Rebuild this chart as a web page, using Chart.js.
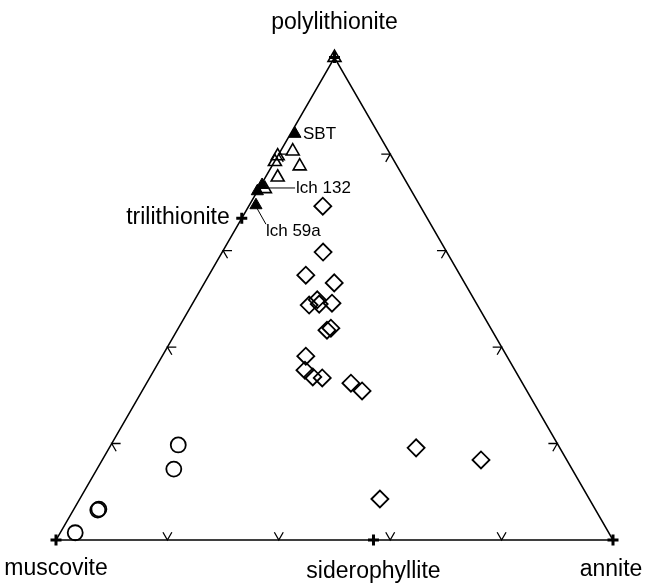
<!DOCTYPE html>
<html>
<head>
<meta charset="utf-8">
<script src="https://cdn.jsdelivr.net/npm/chart.js@4.4.1/dist/chart.umd.min.js"></script>
<style>
    body { margin: 0; background: #fff; }
    #wrap { width: 650px; height: 585px; }
</style>
</head>
<body>
<div id="wrap"><canvas id="chart"></canvas></div>
<script>
// Ternary values in % : polylithionite (top) and annite (right); muscovite is the rest
const endMemberNames  = ["muscovite", "siderophyllite", "annite", "trilithionite", "polylithionite"];
const endMemberPoly   = [0, 0, 0, 66.7, 100];
const endMemberAnnite = [0, 57, 100, 0, 0];

const circlePoly   = [1.5, 6.4, 6.2, 19.7, 14.7];
const circleAnnite = [2.7, 4.5, 4.4, 12.1, 13.8];

const diamondPoly   = [69.2, 59.7, 54.9, 53.3, 48.7, 49.8, 48.9, 49.1, 43.5, 43.9, 38.1, 35.2, 33.8, 33.6, 32.5, 30.9, 19.1, 16.6, 8.5];
const diamondAnnite = [13.3, 18.1, 17.4, 23.3, 21.1, 22.0, 22.8, 25.0, 26.9, 27.4, 25.8, 27.1, 29.2, 31.0, 36.7, 39.5, 55.1, 68.0, 53.9];

const openTriPoly   = [100, 80.6, 77.5, 75.2, 79.6, 78.4, 72.8];
const openTriAnnite = [0, 2.2, 5.0, 2.2, 0, 0.1, 1.1];

const filledTriNames  = ["SBT", "lch 132", "", "lch 59a"];
const filledTriPoly   = [84.2, 73.6, 72.3, 69.4];
const filledTriAnnite = [0.8, 0.2, 0, 1.2];

const tickSteps = [20, 40, 60, 80];

// ternary -> cartesian (side length 1)
const H = Math.sqrt(3) / 2;
function toXY(poly, ann) {
    return { x: (ann + poly / 2) / 100, y: poly / 100 * H };
}
function points(polyArr, annArr) {
    return polyArr.map((p, i) => toXY(p, annArr[i]));
}

// little "v" marks on each side, pointing along the grid directions
const tickLen = 1.6;
const tickData = [];
tickSteps.forEach(f => {
    // bottom edge
    tickData.push([toXY(tickLen, f - tickLen), toXY(0, f), toXY(tickLen, f)]);
    // left edge
    tickData.push([toXY(f, tickLen), toXY(f, 0), toXY(f - tickLen, tickLen)]);
    // right edge
    tickData.push([toXY(f, 100 - f - tickLen), toXY(f, 100 - f), toXY(f - tickLen, 100 - f)]);
});

const outline = [toXY(0, 0), toXY(0, 100), toXY(100, 0), toXY(0, 0)];

// label placement (pixels from the point)
const vertexLabelStyle = {
    "muscovite":      { dx: 0,   dy: 35, align: "center" },
    "siderophyllite": { dx: 0,   dy: 38, align: "center" },
    "annite":         { dx: -2,  dy: 36, align: "center" },
    "trilithionite":  { dx: -12, dy: 6,  align: "right" },
    "polylithionite": { dx: 0,   dy: -29, align: "center" }
};

const labelPlugin = {
    id: "ternaryLabels",
    afterDatasetsDraw(chart) {
        const ctx = chart.ctx;
        const xs = chart.scales.x, ys = chart.scales.y;
        ctx.save();
        ctx.fillStyle = "#000";
        ctx.strokeStyle = "#000";
        ctx.textBaseline = "alphabetic";
        ctx.font = '23px "Liberation Sans", Arial, sans-serif';
        endMemberNames.forEach((name, i) => {
            const p = toXY(endMemberPoly[i], endMemberAnnite[i]);
            const s = vertexLabelStyle[name];
            ctx.textAlign = s.align;
            ctx.fillText(name, xs.getPixelForValue(p.x) + s.dx, ys.getPixelForValue(p.y) + s.dy);
        });

        ctx.font = '17px "Liberation Sans", Arial, sans-serif';
        ctx.textAlign = "left";
        ctx.textBaseline = "middle";
        ctx.lineWidth = 1;
        filledTriNames.forEach((name, i) => {
            if (!name) return;
            const p = toXY(filledTriPoly[i], filledTriAnnite[i]);
            const px = xs.getPixelForValue(p.x), py = ys.getPixelForValue(p.y);
            if (name === "SBT") {
                ctx.fillText(name, px + 8, py);
            } else if (name === "lch 132") {
                ctx.beginPath();
                ctx.moveTo(px + 4, py + 3);
                ctx.lineTo(px + 33, py + 3);
                ctx.stroke();
                ctx.fillText(name, px + 34, py + 3);
            } else {
                ctx.beginPath();
                ctx.moveTo(px + 1, py + 3);
                ctx.lineTo(px + 10, py + 19);
                ctx.stroke();
                ctx.fillText(name, px + 10, py + 26);
            }
        });
        ctx.restore();
    }
};

const datasets = [
    {
        label: "filled",
        data: points(filledTriPoly, filledTriAnnite),
        pointStyle: "triangle", pointRadius: 7,
        backgroundColor: "#000", borderColor: "#000", borderWidth: 1
    },
    {
        label: "open",
        data: points(openTriPoly, openTriAnnite),
        pointStyle: "triangle", pointRadius: 7.5,
        backgroundColor: "rgba(0,0,0,0)", borderColor: "#000", borderWidth: 1.6
    },
    {
        label: "diamonds",
        data: points(diamondPoly, diamondAnnite),
        pointStyle: "rectRot", pointRadius: 8.5,
        backgroundColor: "rgba(0,0,0,0)", borderColor: "#000", borderWidth: 1.8
    },
    {
        label: "circles",
        data: points(circlePoly, circleAnnite),
        pointStyle: "circle", pointRadius: 7.5,
        backgroundColor: "rgba(0,0,0,0)", borderColor: "#000", borderWidth: 1.8
    },
    {
        label: "end members",
        data: points(endMemberPoly, endMemberAnnite),
        pointStyle: "cross", pointRadius: 5.5,
        borderColor: "#000", borderWidth: 3
    },
    {
        label: "outline",
        data: outline,
        showLine: true, pointRadius: 0,
        borderColor: "#000", borderWidth: 1.5, fill: false
    }
];
tickData.forEach(t => {
    datasets.push({
        data: t, showLine: true, pointRadius: 0,
        borderColor: "#000", borderWidth: 1.3, fill: false
    });
});

// 557 px per unit, muscovite at (56, 540)
new Chart(document.getElementById("chart"), {
    type: "scatter",
    data: { datasets: datasets },
    options: {
        responsive: true,
        maintainAspectRatio: false,
        animation: false,
        events: [],
        layout: { padding: 0, autoPadding: false },
        plugins: { legend: { display: false }, tooltip: { enabled: false } },
        scales: {
            x: { type: "linear", display: false, min: -56 / 557, max: 594 / 557 },
            y: { type: "linear", display: false, min: -45 / 557, max: 540 / 557 }
        }
    },
    plugins: [labelPlugin]
});
</script>
</body>
</html>
